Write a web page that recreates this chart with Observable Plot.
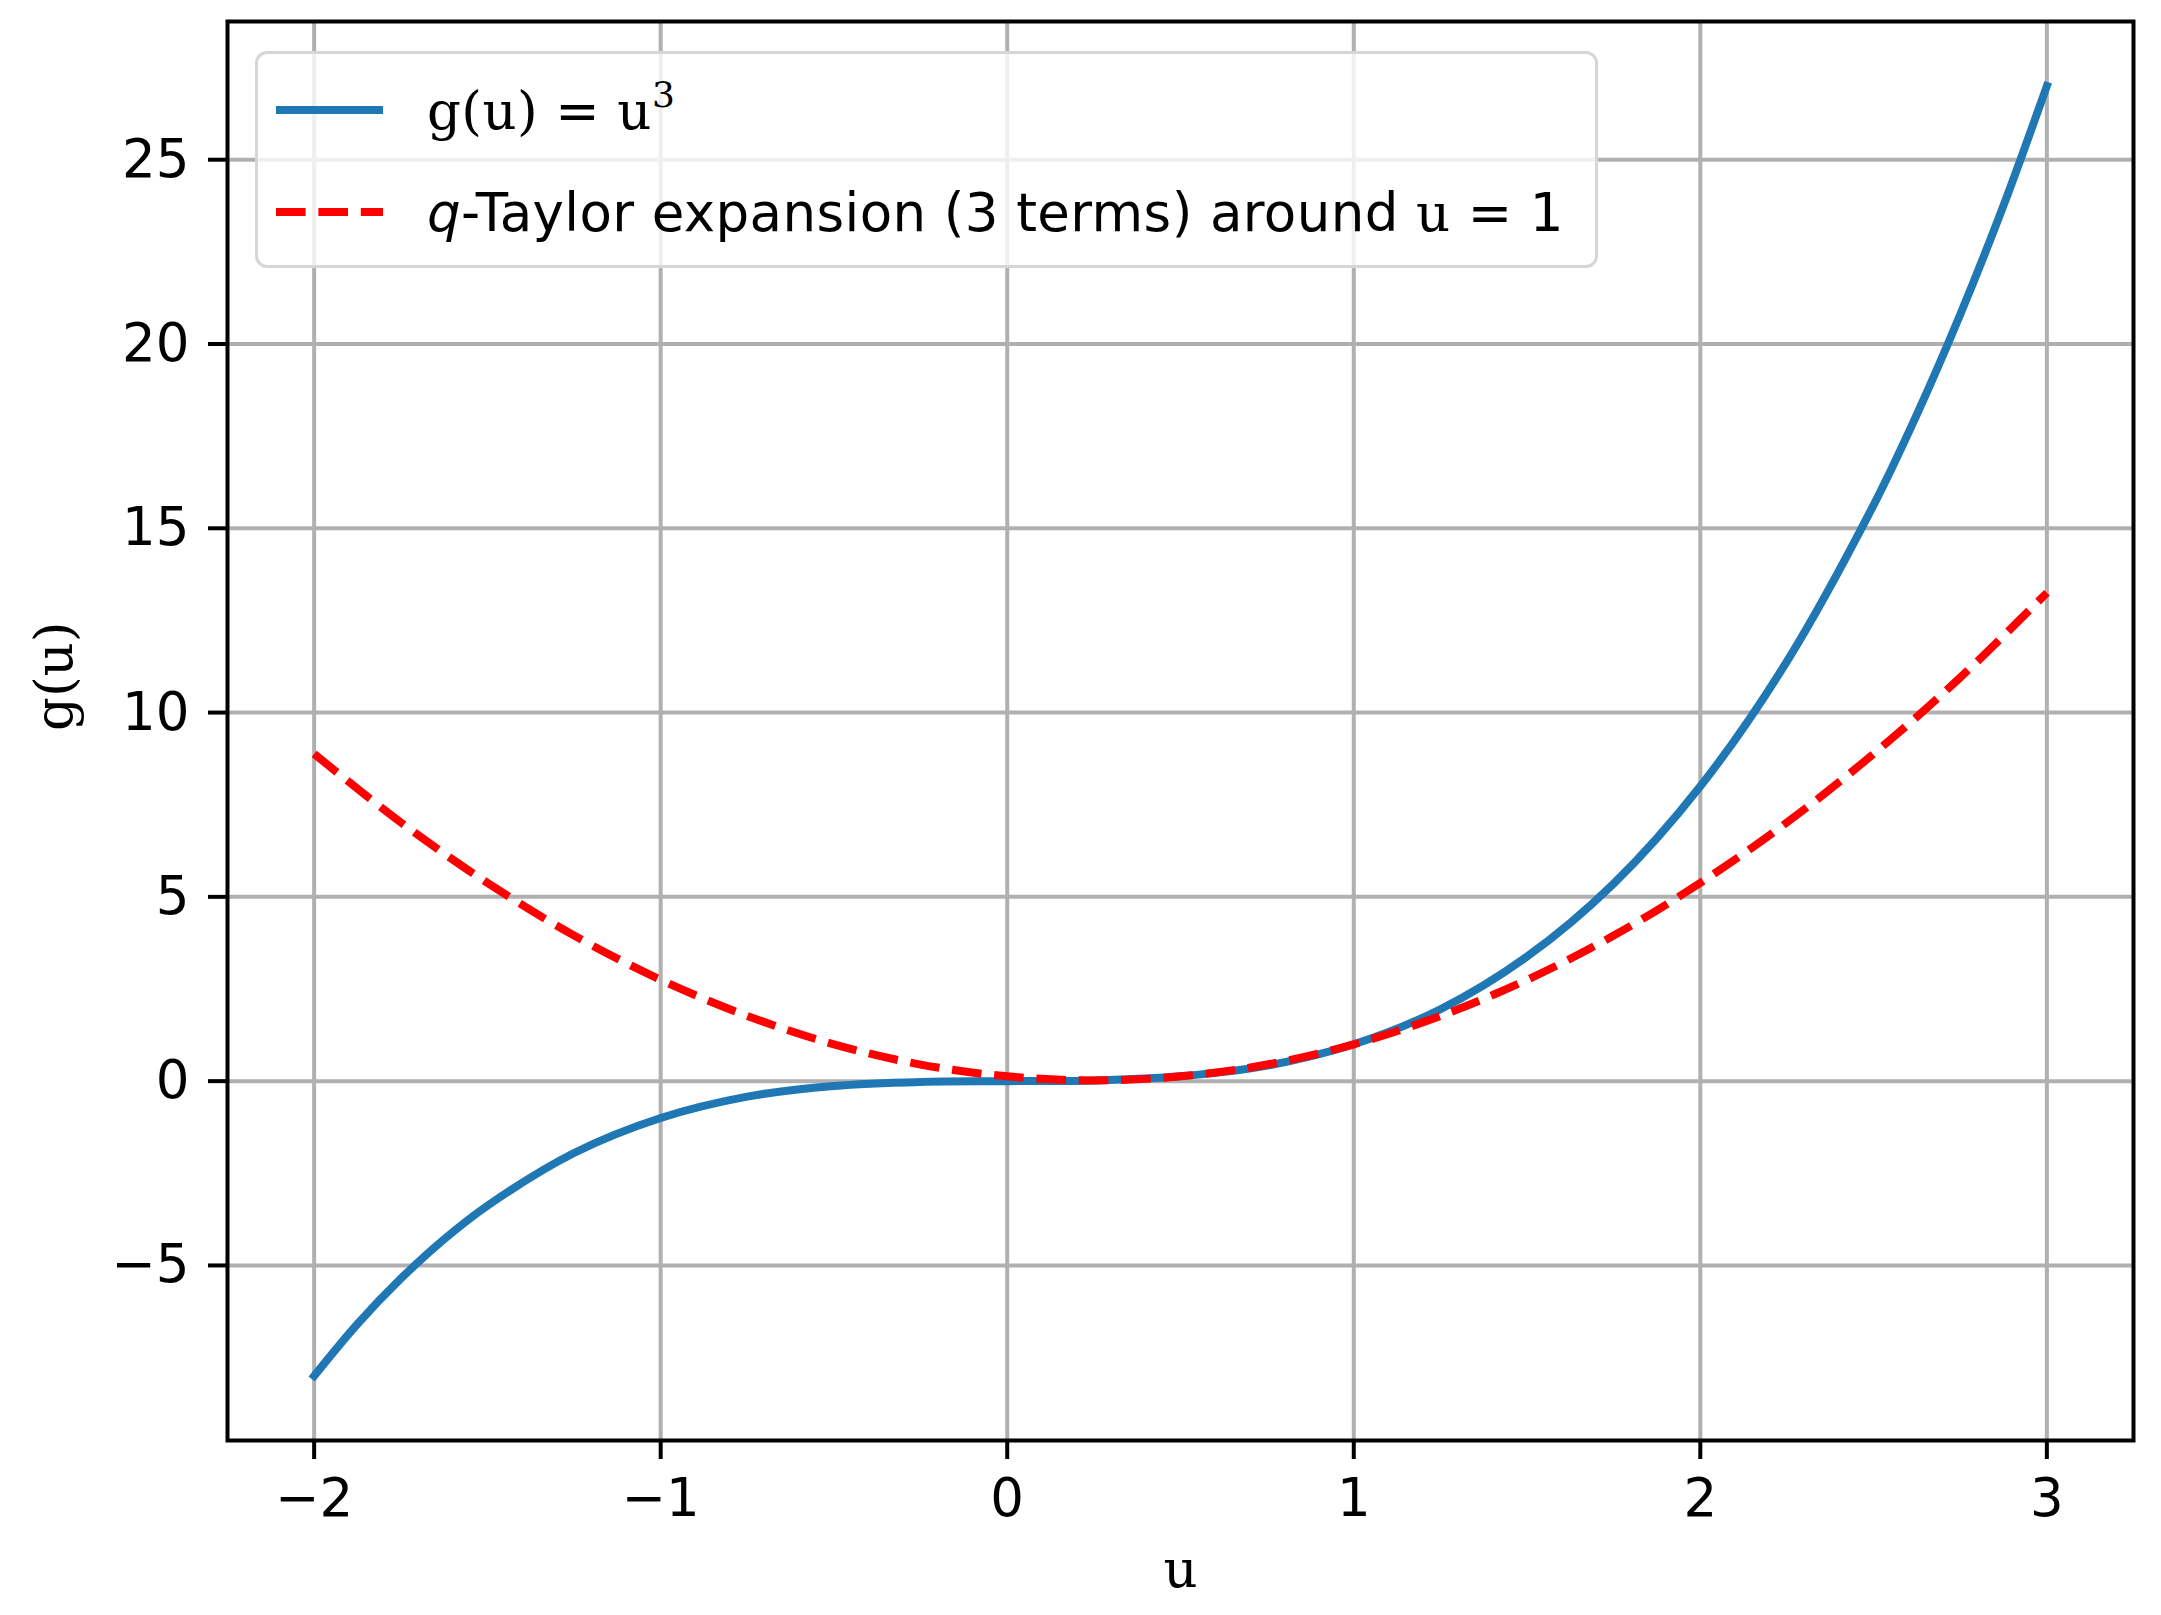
<!DOCTYPE html>
<html>
<head>
<meta charset="utf-8">
<script src="https://cdn.jsdelivr.net/npm/d3@7"></script>
<script src="https://cdn.jsdelivr.net/npm/@observablehq/plot@0.6"></script>
<style>
  html, body { margin: 0; padding: 0; background: #fff; }
  #wrap { position: relative; width: 2161px; height: 1615px; }
  #legend {
    position: absolute; left: 255px; top: 51px; width: 1337px; height: 211px;
    border: 3px solid #d6d6d6; border-radius: 12px; background: rgba(255,255,255,0.8);
    font-family: "DejaVu Sans", sans-serif; font-size: 53px; color: #000;
  }
  .entry { position: absolute; left: 0; height: 60px; display: flex; align-items: center; }
  .entry svg { position: absolute; left: 18px; }
  .entry .lbl { position: absolute; left: 169px; white-space: nowrap; letter-spacing: 0.4px; }
  .serif { font-family: "DejaVu Serif", serif; }
</style>
</head>
<body>
<div id="wrap"></div>
<script>
// Data
const uCubic = [-2, -1.875, -1.75, -1.625, -1.5, -1.25, -1, -0.75, -0.5, -0.25, 0, 0.25, 0.5, 0.75, 1, 1.25, 1.5, 1.75, 2, 2.25, 2.5, 2.625, 2.75, 2.875, 3];
const cubic = [-8, -6.59, -5.36, -4.29, -3.38, -1.95, -1, -0.42, -0.13, -0.02, 0, 0.02, 0.13, 0.42, 1, 1.95, 3.38, 5.36, 8, 11.39, 15.63, 18.09, 20.8, 23.76, 27];
const uTaylor = [-2, -1.75, -1.5, -1.25, -1, -0.75, -0.5, -0.25, 0, 0.25, 0.5, 0.75, 1, 1.25, 1.5, 1.75, 2, 2.25, 2.5, 2.75, 3];
const taylor = [8.88, 7.02, 5.38, 3.95, 2.75, 1.77, 1.0, 0.45, 0.13, 0.02, 0.13, 0.45, 1, 1.77, 2.75, 3.95, 5.38, 7.02, 8.88, 10.95, 13.25];
const xTicks = [-2, -1, 0, 1, 2, 3];
const yTicks = [-5, 0, 5, 10, 15, 20, 25];
const xDomain = [-2.25, 3.25];
const yDomain = [-9.75, 28.75];

const cubicData = uCubic.map((x, i) => ({u: x, v: cubic[i]}));
const taylorData = uTaylor.map((x, i) => ({u: x, v: taylor[i]}));
const fmt = d => (d < 0 ? "\u2212" + Math.abs(d) : String(d));

const chart = Plot.plot({
  width: 2161,
  height: 1615,
  marginLeft: 227,
  marginRight: 28,
  marginTop: 21,
  marginBottom: 175,
  style: {fontFamily: "DejaVu Sans, sans-serif", fontSize: "53px", color: "#000", background: "#fff"},
  x: {domain: xDomain, ticks: xTicks},
  y: {domain: yDomain, ticks: yTicks},
  marks: [
    Plot.gridX(xTicks, {stroke: "#b0b0b0", strokeOpacity: 1, strokeWidth: 4}),
    Plot.gridY(yTicks, {stroke: "#b0b0b0", strokeOpacity: 1, strokeWidth: 4}),
    Plot.line(cubicData, {x: "u", y: "v", stroke: "#1f77b4", strokeWidth: 8, curve: "catmull-rom", strokeLinecap: "square"}),
    Plot.line(taylorData, {x: "u", y: "v", stroke: "#ff0000", strokeWidth: 8, curve: "catmull-rom", strokeDasharray: "29.6,12.8", strokeLinecap: "butt"}),
    Plot.frame({stroke: "#000", strokeWidth: 4}),
    Plot.axisX(xTicks, {anchor: "bottom", tickSize: 19, tickPadding: 19, strokeWidth: 4, fontSize: 53, label: null, tickFormat: fmt}),
    Plot.axisY(yTicks, {anchor: "left", tickSize: 19, tickPadding: 19, strokeWidth: 4, fontSize: 53, label: null, tickFormat: fmt}),
    Plot.text(["u"], {frameAnchor: "bottom", dy: 130, fontSize: 53, fontFamily: "DejaVu Serif, serif", lineAnchor: "middle"}),
    Plot.text(["g(u)"], {frameAnchor: "left", dx: -172, rotate: -90, fontSize: 53, fontFamily: "DejaVu Serif, serif", lineAnchor: "middle"})
  ]
});

const wrap = document.getElementById("wrap");
wrap.appendChild(chart);

const legend = document.createElement("div");
legend.id = "legend";
legend.innerHTML = `
  <div class="entry" style="top:26px">
    <svg width="107" height="20"><line x1="0" x2="107" y1="10" y2="10" stroke="#1f77b4" stroke-width="8"/></svg>
    <span class="lbl"><span class="serif">g(u)</span> = <span class="serif">u<sup style="font-size:36px;vertical-align:22px;line-height:0">3</sup></span></span>
  </div>
  <div class="entry" style="top:128px">
    <svg width="107" height="20"><line x1="0" x2="107" y1="10" y2="10" stroke="#ff0000" stroke-width="8" stroke-dasharray="29.6,12.8"/></svg>
    <span class="lbl"><i>q</i>-Taylor expansion (3 terms) around <span class="serif">u</span> = 1</span>
  </div>`;
wrap.appendChild(legend);
</script>
</body>
</html>
